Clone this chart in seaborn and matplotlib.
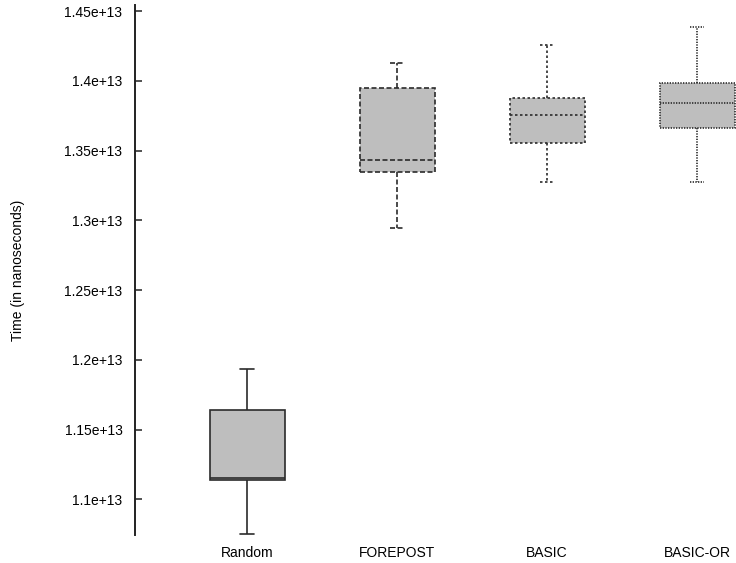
import numpy as np
import pandas as pd
import matplotlib
matplotlib.use("Agg")
import matplotlib.pyplot as plt
from matplotlib.ticker import MultipleLocator, StrMethodFormatter
import seaborn as sns

# Five-number summaries (min, q1, median, q3, max), units of 1e13 ns
categories = ["Random", "FOREPOST", "BASIC", "BASIC-OR"]
random_t = [1.0751, 1.1138, 1.1152, 1.1640, 1.1934]
forepost_t = [1.2947, 1.3344, 1.3430, 1.3946, 1.4125]
basic_t = [1.3274, 1.3556, 1.3754, 1.3874, 1.4256]
basic_or_t = [1.3276, 1.3659, 1.3838, 1.3986, 1.4383]

series = [random_t, forepost_t, basic_t, basic_or_t]
df = pd.DataFrame({
    "method": np.repeat(categories, 5),
    "time": np.concatenate(series) * 1e13,
})

sns.set_style("white")
plt.rcParams["font.family"] = ["Liberation Sans", "DejaVu Sans"]
plt.rcParams["font.size"] = 10
plt.rcParams["text.color"] = "black"
plt.rcParams["axes.labelcolor"] = "black"
plt.rcParams["xtick.color"] = "black"
plt.rcParams["ytick.color"] = "black"

fig = plt.figure(figsize=(7.36, 5.63), dpi=100)
ax = fig.add_axes([0.1834, 0.0497, 0.8166, 0.9414])

sns.boxplot(
    data=df, x="method", y="time", order=categories,
    color="#bebebe", saturation=1, width=0.5, whis=(0, 100),
    linecolor="#2b2b2b", linewidth=1.2, capwidths=0.095, ax=ax,
)

# each box gets its own line style
styles = ["-", (0, (3, 1.5)), (0, (1.5, 1.5)), (0, (0.8, 0.8))]
boxes, medians, whiskers, caps = [], [], [], []
for cont in ax.containers:
    boxes += list(cont.boxes)
    medians += list(cont.medians)
    whiskers += list(cont.whiskers)
    caps += list(cont.caps)
for i, ls in enumerate(styles):
    for art in [boxes[i], medians[i], *whiskers[2 * i:2 * i + 2], *caps[2 * i:2 * i + 2]]:
        art.set_linestyle(ls)

ax.set_xlim(-0.747, 3.26)
ax.set_ylim(1.0744e13, 1.4543e13)
ax.yaxis.set_major_locator(MultipleLocator(0.05e13))
ax.yaxis.set_major_formatter(StrMethodFormatter("{x:g}"))

for side in ["top", "right", "bottom"]:
    ax.spines[side].set_visible(False)
ax.spines["left"].set_linewidth(1.4)
ax.spines["left"].set_color("#222222")

ax.tick_params(axis="y", left=True, direction="in", length=5, width=1.1,
               color="#222222", pad=9, labelsize=10)
ax.tick_params(axis="x", bottom=False, length=0, pad=8, labelsize=10)

ax.set_xlabel("")
ax.set_ylabel("Time (in nanoseconds)", fontsize=10)
ax.yaxis.set_label_coords(-0.183, 0.5)

fig.savefig("out.png", dpi=100)
